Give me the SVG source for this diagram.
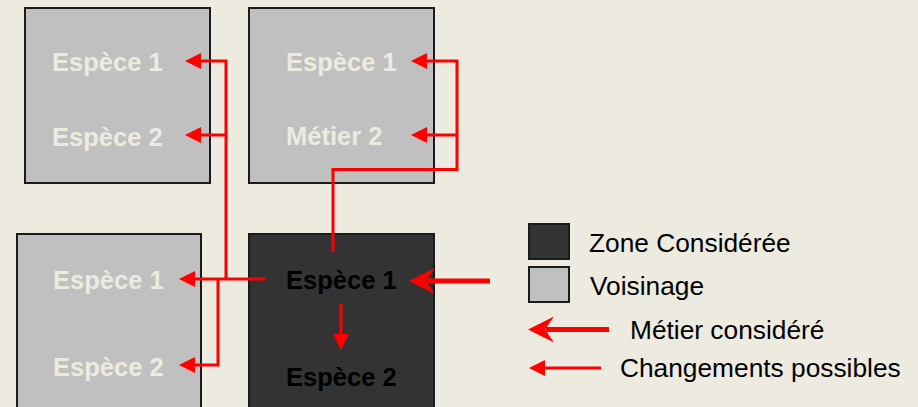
<svg xmlns="http://www.w3.org/2000/svg" width="918" height="407" viewBox="0 0 918 407">
<style>
.bg{fill:#EDEBE0}
.light{fill:#C0C0C0;stroke:#1a1a1a;stroke-width:2}
.dark{fill:#333333;stroke:#1a1a1a;stroke-width:2}
.lt{font-family:"Liberation Sans",Arial,sans-serif;font-weight:bold;font-size:25.5px;fill:#EDEBE0}
.dt{font-family:"Liberation Sans",Arial,sans-serif;font-weight:bold;font-size:25.5px;fill:#000}
.lg{font-family:"Liberation Sans",Arial,sans-serif;font-size:26.3px;fill:#000}
.c{fill:none;stroke:#FF0000;stroke-width:3}
.ct{fill:none;stroke:#FF0000;stroke-width:5}
</style>
<defs>
<marker id="ah" viewBox="0 0 16 16" markerWidth="16" markerHeight="16" refX="0" refY="8" orient="auto" markerUnits="userSpaceOnUse">
<path d="M0,0 L16,8 L0,16 z" fill="#FF0000"/>
</marker>
<marker id="aht" viewBox="0 0 26 26" markerWidth="26" markerHeight="26" refX="8" refY="13" orient="auto" markerUnits="userSpaceOnUse">
<path d="M0,0 L26,13 L0,26 L9,13 z" fill="#FF0000"/>
</marker>
</defs>
<rect class="bg" x="0" y="0" width="918" height="407"/>
<g id="box-top-left">
<rect class="light" x="25" y="8" width="185" height="175"/>
<text class="lt" x="52" y="71">Espèce 1</text>
<text class="lt" x="52" y="146">Espèce 2</text>
</g>
<g id="box-top-middle">
<rect class="light" x="249" y="8" width="185" height="175"/>
<text class="lt" x="286" y="71">Espèce 1</text>
<text class="lt" x="286" y="145">Métier 2</text>
</g>
<g id="box-bottom-left">
<rect class="light" x="17" y="234" width="184" height="190"/>
<text class="lt" x="53" y="289">Espèce 1</text>
<text class="lt" x="53" y="376">Espèce 2</text>
</g>
<g id="box-considered">
<rect class="dark" x="249" y="234" width="185" height="190"/>
<text class="dt" x="286" y="289">Espèce 1</text>
<text class="dt" x="286" y="386">Espèce 2</text>
</g>
<g id="legend">
<rect class="dark" x="529" y="224" width="40" height="35"/>
<text class="lg" x="589" y="252">Zone Considérée</text>
<rect class="light" x="529" y="267" width="40" height="35"/>
<text class="lg" x="590" y="295">Voisinage</text>
<path class="ct" d="M609,329.5 H546" marker-end="url(#aht)"/>
<text class="lg" x="630" y="339">Métier considéré</text>
<path class="c" d="M601,368 H545" marker-end="url(#ah)"/>
<text class="lg" x="620" y="377">Changements possibles</text>
</g>
<g id="connectors">
<path class="c" d="M265,279 H195" marker-end="url(#ah)"/>
<path class="c" d="M226,279 V61 H201" marker-end="url(#ah)"/>
<path class="c" d="M226,135 H201" marker-end="url(#ah)"/>
<path class="c" d="M218,279 V365 H195" marker-end="url(#ah)"/>
<path class="c" d="M333,252 V169.5 H457 V61 H427" marker-end="url(#ah)"/>
<path class="c" d="M457,135 H427" marker-end="url(#ah)"/>
<path class="c" d="M341,304 V334" marker-end="url(#ah)"/>
<path class="ct" d="M490,281 H427" marker-end="url(#aht)"/>
</g>
</svg>
